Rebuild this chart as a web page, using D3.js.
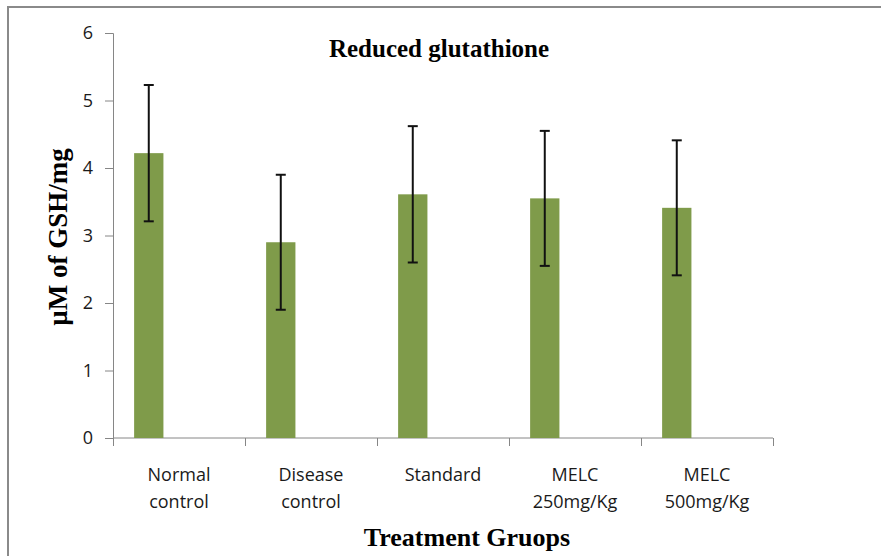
<!DOCTYPE html>
<html>
<head>
<meta charset="utf-8">
<script src="https://cdn.jsdelivr.net/npm/d3@7"></script>
<style>
  html, body { margin: 0; padding: 0; background: #fff; }
  svg { display: block; }
</style>
</head>
<body>
<svg id="chart" width="881" height="556"></svg>
<script>
const categories = [["Normal", "control"], ["Disease", "control"], ["Standard"], ["MELC", "250mg/Kg"], ["MELC", "500mg/Kg"]];
const categoryKeys = ["Normal control", "Disease control", "Standard", "MELC 250mg/Kg", "MELC 500mg/Kg"];
const values = [4.22, 2.90, 3.61, 3.55, 3.41];
const errors = [1.01, 1.0, 1.01, 1.0, 1.0];
const yTicks = [0, 1, 2, 3, 4, 5, 6];
const titleText = "Reduced glutathione";
const xTitle = "Treatment Gruops";
const yTitle = "µM of GSH/mg";

const svg = d3.select("#chart");
const W = 881, H = 556;
const margin = { left: 113, right: 108, top: 33, bottom: 118 };

// outer frame
svg.append("rect").attr("x", 8).attr("y", 7).attr("width", W + 20).attr("height", H + 20)
  .attr("fill", "none").attr("stroke", "#8a8a8a").attr("stroke-width", 2);

const x = d3.scaleBand().domain(categoryKeys).range([margin.left, W - margin.right]).padding(0);
const y = d3.scaleLinear().domain([0, 6]).range([H - margin.bottom, margin.top]);

const axisColor = "#868686";
const labelFont = "'Open Sans', sans-serif";
const serif = "'Liberation Serif', 'Times New Roman', serif";

// y axis
const yAxis = svg.append("g").attr("transform", `translate(${margin.left},0)`)
  .call(d3.axisLeft(y).tickValues(yTicks).tickSize(8).tickPadding(12).tickFormat(d3.format("d")));
yAxis.select(".domain").attr("stroke", axisColor);
yAxis.selectAll(".tick line").attr("stroke", axisColor);
yAxis.selectAll(".tick text").attr("fill", "#1a1a1a").style("font-family", labelFont).style("font-size", "18px");

// x axis with boundary ticks
const xAxisG = svg.append("g").attr("transform", `translate(0,${y(0)})`);
xAxisG.append("line").attr("x1", margin.left).attr("x2", W - margin.right)
  .attr("stroke", axisColor);
const bounds = categoryKeys.map(k => x(k)).concat([x(categoryKeys[categoryKeys.length - 1]) + x.bandwidth()]);
xAxisG.selectAll("line.tk").data(bounds).join("line").attr("class", "tk")
  .attr("x1", d => d + 0.5).attr("x2", d => d + 0.5).attr("y1", 0).attr("y2", 8)
  .attr("stroke", axisColor);

// category labels
const bw = x.bandwidth();
svg.append("g").selectAll("text").data(categoryKeys).join("text")
  .attr("x", d => x(d) + bw / 2)
  .attr("y", y(0) + 43)
  .attr("text-anchor", "middle")
  .attr("fill", "#1a1a1a")
  .style("font-family", labelFont).style("font-size", "18px")
  .each(function(d, i) {
    const t = d3.select(this);
    categories[i].forEach((line, j) => {
      t.append("tspan").attr("x", x(d) + bw / 2).attr("dy", j === 0 ? 0 : 27).text(line);
    });
  });

// bars
const barOff = bw * 0.16, barW = bw * 0.222;
svg.append("g").selectAll("rect").data(values).join("rect")
  .attr("x", (d, i) => x(categoryKeys[i]) + barOff)
  .attr("y", d => y(d))
  .attr("width", barW)
  .attr("height", d => y(0) - y(d))
  .attr("fill", "#7f9b4a");

// error bars
const eg = svg.append("g").attr("stroke", "#111").attr("stroke-width", 2);
values.forEach((v, i) => {
  const cx = x(categoryKeys[i]) + barOff + barW / 2;
  eg.append("line").attr("x1", cx).attr("x2", cx).attr("y1", y(v + errors[i])).attr("y2", y(v - errors[i]));
  eg.append("line").attr("x1", cx - 5).attr("x2", cx + 5).attr("y1", y(v + errors[i])).attr("y2", y(v + errors[i]));
  eg.append("line").attr("x1", cx - 5).attr("x2", cx + 5).attr("y1", y(v - errors[i])).attr("y2", y(v - errors[i]));
});

// titles
svg.append("text").attr("x", 439).attr("y", 57).attr("text-anchor", "middle")
  .style("font-family", serif).style("font-weight", "bold").style("font-size", "25px")
  .text(titleText);
svg.append("text").attr("x", 467).attr("y", 546).attr("text-anchor", "middle")
  .style("font-family", serif).style("font-weight", "bold").style("font-size", "26px")
  .text(xTitle);
svg.append("text").attr("transform", "translate(67,237) rotate(-90)").attr("text-anchor", "middle")
  .style("font-family", serif).style("font-weight", "bold").style("font-size", "27px")
  .text(yTitle);
</script>
</body>
</html>
